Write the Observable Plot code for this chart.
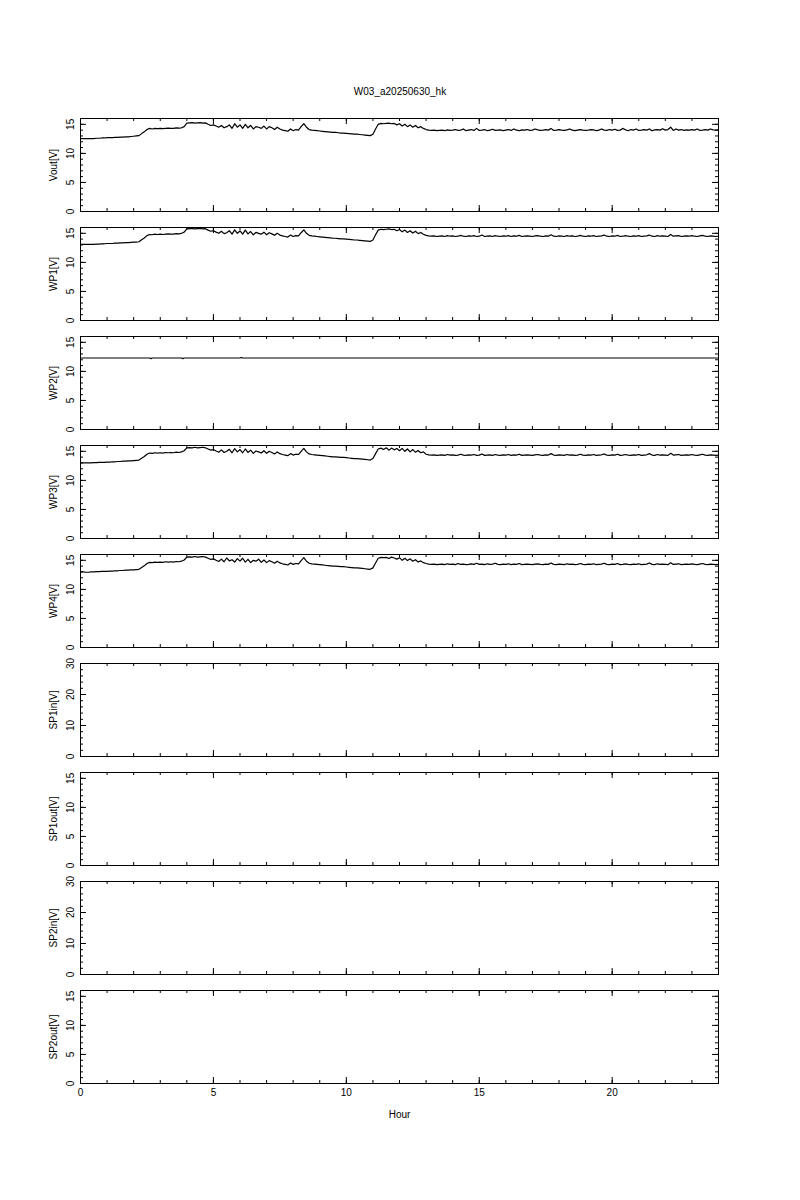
<!DOCTYPE html>
<html><head><meta charset="utf-8">
<script src="https://cdn.jsdelivr.net/npm/d3@7"></script>
<script src="https://cdn.jsdelivr.net/npm/@observablehq/plot@0.6"></script>
<style>
body{margin:0;background:#fff;}
#root{position:relative;width:800px;height:1200px;background:#fff;font-family:"Liberation Sans",Arial,sans-serif;}
.title{position:absolute;top:86px;left:0;width:800px;text-align:center;font-size:10px;line-height:12px;color:#000;}
.panel{position:absolute;left:0;}
</style></head><body>
<div id="root"><div class="title">W03_a20250630_hk</div></div>
<script>
const title = "W03_a20250630_hk";
const panelLabels = ["Vout[V]","WP1[V]","WP2[V]","WP3[V]","WP4[V]","SP1in[V]","SP1out[V]","SP2in[V]","SP2out[V]"];
const panelMax = [16,16,16,16,16,30,16,30,16];
const xTickLabels = [0,5,10,15,20];

// sample hours (every 0.1 h)
const hours = d3.range(0, 241).map(i => i / 10);

const vout = [
12.55,12.55,12.55,12.55,12.55,12.55,12.6,12.6,12.65,12.65,
12.7,12.7,12.7,12.75,12.75,12.8,12.8,12.85,12.85,12.9,
12.95,13.0,13.05,13.4,13.7,14.1,14.3,14.2,14.3,14.25,
14.3,14.25,14.3,14.35,14.3,14.3,14.4,14.35,14.4,14.6,
15.2,15.25,15.3,15.2,15.25,15.3,15.2,15.25,15.0,14.8,
14.9,14.7,14.5,14.8,14.4,14.6,14.9,14.3,15.1,14.5,
14.9,14.3,15.0,14.4,14.8,14.2,14.6,14.5,14.3,14.7,
14.2,14.6,14.4,14.1,14.5,14.2,14.0,13.9,13.8,14.2,
13.9,14.1,14.0,14.6,15.1,14.5,14.1,14.0,13.95,13.9,
13.85,13.8,13.75,13.7,13.65,13.6,13.6,13.55,13.5,13.5,
13.45,13.4,13.35,13.3,13.3,13.25,13.2,13.15,13.1,13.05,
13.3,14.2,15.0,15.15,15.1,15.15,15.2,15.1,15.15,14.9,
15.1,14.7,15.0,14.6,14.9,14.5,14.8,14.4,14.6,14.3,
14.1,14.0,13.95,14.0,13.9,13.95,14.0,13.9,14.05,13.95,
14.0,14.1,13.95,14.0,14.2,13.9,14.0,14.1,13.95,14.3,
13.95,14.0,14.1,13.9,14.0,14.15,13.95,14.0,14.05,13.9,
14.0,14.1,13.95,14.2,14.0,13.9,14.05,14.0,14.1,13.95,
14.0,14.2,14.05,13.95,14.0,14.1,14.0,14.3,13.95,14.0,
14.1,14.0,13.95,14.05,14.2,14.0,13.9,14.0,14.1,14.0,
13.95,14.0,14.1,14.05,13.9,14.0,14.2,14.0,13.95,14.1,
14.0,14.15,13.95,14.0,14.3,14.05,13.9,14.1,14.0,14.2,
13.95,14.0,14.1,14.0,14.2,13.9,14.05,14.1,14.0,14.25,
14.0,14.1,14.5,13.95,14.2,14.0,14.1,13.95,14.05,14.0,
14.1,14.0,14.2,13.95,14.0,14.1,14.0,14.2,14.05,14.0,
14.05];

const wp1 = [
13.1,13.1,13.1,13.1,13.1,13.1,13.15,13.15,13.2,13.2,
13.25,13.25,13.25,13.3,13.3,13.35,13.35,13.4,13.4,13.45,
13.5,13.5,13.55,13.9,14.2,14.6,14.8,14.75,14.85,14.8,
14.85,14.8,14.85,14.9,14.85,14.85,14.95,14.9,15.0,15.2,
15.75,15.8,15.8,15.75,15.8,15.85,15.75,15.8,15.55,15.35,
15.45,15.2,15.0,15.35,14.95,15.1,15.45,14.85,15.6,15.0,
15.4,14.85,15.55,14.9,15.3,14.75,15.15,15.0,14.85,15.2,
14.75,15.1,14.9,14.65,15.0,14.7,14.55,14.45,14.35,14.7,
14.45,14.6,14.55,15.1,15.6,15.0,14.65,14.55,14.5,14.45,
14.4,14.35,14.3,14.25,14.2,14.15,14.15,14.1,14.05,14.05,
14.0,13.95,13.9,13.85,13.85,13.8,13.75,13.7,13.65,13.6,
13.85,14.75,15.55,15.7,15.65,15.7,15.75,15.65,15.7,15.45,
15.65,15.25,15.55,15.15,15.45,15.05,15.35,14.95,15.15,14.85,
14.65,14.55,14.5,14.55,14.45,14.5,14.55,14.45,14.6,14.5,
14.55,14.45,14.5,14.65,14.5,14.45,14.55,14.5,14.6,14.45,
14.5,14.7,14.45,14.5,14.55,14.45,14.6,14.5,14.45,14.55,
14.5,14.6,14.45,14.55,14.5,14.65,14.45,14.5,14.55,14.5,
14.45,14.55,14.6,14.5,14.45,14.55,14.5,14.75,14.5,14.45,
14.55,14.5,14.45,14.6,14.5,14.55,14.45,14.5,14.65,14.5,
14.45,14.55,14.5,14.6,14.45,14.5,14.55,14.7,14.5,14.45,
14.55,14.5,14.65,14.45,14.5,14.6,14.5,14.45,14.55,14.5,
14.6,14.45,14.5,14.55,14.7,14.5,14.45,14.6,14.5,14.55,
14.5,14.45,14.8,14.5,14.55,14.6,14.45,14.5,14.55,14.5,
14.6,14.5,14.45,14.55,14.65,14.5,14.45,14.55,14.5,14.45,
14.5];

const wp2Hours = [0, 2.6, 2.65, 2.7, 3.8, 3.85, 3.9, 6.0, 6.05, 6.1, 24];
const wp2 = [12.3, 12.3, 12.2, 12.3, 12.3, 12.2, 12.3, 12.3, 12.4, 12.3, 12.3];

const wp3 = [
13.0,13.0,13.0,13.0,13.0,13.05,13.05,13.1,13.1,13.1,
13.15,13.15,13.2,13.2,13.25,13.25,13.3,13.3,13.35,13.35,
13.4,13.45,13.5,13.8,14.1,14.5,14.7,14.65,14.75,14.7,
14.75,14.7,14.8,14.75,14.8,14.75,14.85,14.8,14.9,15.1,
15.6,15.65,15.6,15.7,15.6,15.65,15.7,15.6,15.4,15.2,
15.3,15.05,14.85,15.25,14.8,15.0,15.35,14.75,15.45,14.9,
15.3,14.75,15.4,14.8,15.2,14.65,15.05,14.9,14.7,15.1,
14.65,15.0,14.8,14.55,14.9,14.6,14.45,14.35,14.25,14.6,
14.35,14.5,14.45,15.0,15.5,14.9,14.55,14.45,14.4,14.35,
14.3,14.25,14.2,14.15,14.1,14.05,14.05,14.0,13.95,13.95,
13.9,13.85,13.8,13.75,13.75,13.7,13.65,13.6,13.55,13.5,
13.75,14.6,15.4,15.55,15.3,15.6,15.2,15.55,15.25,15.5,
15.1,15.5,15.0,15.4,14.9,15.3,14.85,15.15,14.75,14.9,
14.5,14.4,14.35,14.4,14.3,14.35,14.4,14.3,14.45,14.35,
14.4,14.3,14.35,14.5,14.35,14.3,14.4,14.35,14.45,14.3,
14.35,14.55,14.3,14.35,14.4,14.3,14.45,14.35,14.3,14.4,
14.35,14.45,14.3,14.4,14.35,14.5,14.3,14.35,14.4,14.35,
14.3,14.4,14.45,14.35,14.3,14.4,14.35,14.6,14.35,14.3,
14.4,14.35,14.3,14.45,14.35,14.4,14.3,14.35,14.5,14.35,
14.3,14.4,14.35,14.45,14.3,14.35,14.4,14.55,14.35,14.3,
14.4,14.35,14.5,14.3,14.35,14.45,14.35,14.3,14.4,14.35,
14.45,14.3,14.35,14.4,14.6,14.35,14.3,14.45,14.35,14.4,
14.35,14.3,14.65,14.35,14.4,14.45,14.3,14.35,14.4,14.35,
14.45,14.35,14.3,14.4,14.5,14.35,14.3,14.4,14.35,14.3,
14.35];

const wp4 = [
13.0,13.0,12.95,12.95,13.0,13.0,13.05,13.05,13.1,13.1,
13.1,13.15,13.15,13.2,13.2,13.25,13.25,13.3,13.3,13.35,
13.35,13.4,13.45,13.75,14.05,14.45,14.65,14.6,14.7,14.65,
14.7,14.65,14.75,14.7,14.75,14.7,14.8,14.75,14.85,15.05,
15.55,15.6,15.55,15.65,15.55,15.6,15.65,15.55,15.35,15.15,
15.25,15.0,14.8,15.2,14.75,15.4,14.9,15.1,14.7,15.3,
14.85,15.35,14.7,15.15,14.6,15.0,14.85,15.2,14.65,15.05,
14.6,14.95,14.75,14.5,14.85,14.55,14.4,14.3,14.2,14.55,
14.3,14.45,14.4,14.95,15.45,14.85,14.5,14.4,14.35,14.3,
14.25,14.2,14.15,14.1,14.05,14.0,14.0,13.95,13.9,13.9,
13.85,13.8,13.75,13.7,13.7,13.65,13.6,13.55,13.5,13.45,
13.7,14.55,15.35,15.5,15.45,15.5,15.3,15.55,15.4,15.2,
15.45,15.0,15.35,14.95,15.25,14.85,15.1,14.7,14.9,14.6,
14.45,14.35,14.3,14.35,14.25,14.3,14.35,14.25,14.4,14.3,
14.35,14.25,14.45,14.3,14.35,14.25,14.3,14.4,14.3,14.5,
14.3,14.35,14.25,14.4,14.3,14.35,14.5,14.3,14.25,14.35,
14.3,14.4,14.25,14.35,14.3,14.45,14.25,14.3,14.35,14.3,
14.25,14.35,14.4,14.3,14.25,14.35,14.3,14.55,14.3,14.25,
14.35,14.3,14.25,14.4,14.3,14.35,14.25,14.3,14.45,14.3,
14.25,14.35,14.3,14.4,14.25,14.3,14.35,14.5,14.3,14.25,
14.35,14.3,14.45,14.25,14.3,14.4,14.3,14.25,14.35,14.3,
14.4,14.25,14.3,14.35,14.55,14.3,14.25,14.4,14.3,14.35,
14.3,14.25,14.6,14.3,14.35,14.4,14.25,14.3,14.35,14.3,
14.4,14.3,14.25,14.35,14.45,14.3,14.25,14.35,14.3,14.25,
14.3];

const panelSeries = [
  {x: hours, y: vout}, {x: hours, y: wp1}, {x: wp2Hours, y: wp2},
  {x: hours, y: wp3}, {x: hours, y: wp4}, null, null, null, null
];

const root = document.getElementById("root");
const FH = 93, MT = 6, ML = 80, MR = 82, FW = 800 - ML - MR;
const xMajor = [0,5,10,15,20];
const xMinor = d3.range(0, 25);

panelLabels.forEach((label, i) => {
  const ymax = panelMax[i];
  const last = i === panelLabels.length - 1;
  const yMajor = ymax === 30 ? [0,10,20,30] : [0,5,10,15];
  const yMinor = ymax === 30 ? d3.range(0, 31, 2) : d3.range(0, 17, 1);
  const MB = last ? 50 : 10;
  const H = MT + FH + MB;
  const marks = [
    Plot.tickX(xMinor, {x: d => d, insetTop: FH - 3, stroke: "black"}),
    Plot.tickX(xMinor, {x: d => d, insetBottom: FH - 3, stroke: "black"}),
    Plot.tickX(xMajor, {x: d => d, insetTop: FH - 6, stroke: "black"}),
    Plot.tickX(xMajor, {x: d => d, insetBottom: FH - 6, stroke: "black"}),
    Plot.tickY(yMinor, {y: d => d, insetRight: FW - 3, stroke: "black"}),
    Plot.tickY(yMinor, {y: d => d, insetLeft: FW - 3, stroke: "black"}),
    Plot.tickY(yMajor, {y: d => d, insetRight: FW - 6, stroke: "black"}),
    Plot.tickY(yMajor, {y: d => d, insetLeft: FW - 6, stroke: "black"}),
    Plot.text(yMajor, {y: d => d, text: d => String(d), frameAnchor: "left", dx: -10, rotate: -90, textAnchor: "middle", fill: "black"}),
    Plot.text([label], {frameAnchor: "left", dx: -27, rotate: -90, textAnchor: "middle", fill: "black"})
  ];
  const s = panelSeries[i];
  if (s) marks.push(Plot.line(s.y, {x: s.x, y: d => d, stroke: "black", strokeWidth: 1.2}));
  marks.push(Plot.frame({stroke: "black"}));
  if (last) {
    marks.push(Plot.text(xTickLabels, {x: d => d, text: d => String(d), frameAnchor: "bottom", dy: 12, fill: "black"}));
    marks.push(Plot.text(["Hour"], {frameAnchor: "bottom", dy: 34, fill: "black"}));
  }
  const svg = Plot.plot({
    width: 800, height: H,
    marginLeft: ML, marginRight: MR, marginTop: MT, marginBottom: MB,
    x: {domain: [0, 24], axis: null},
    y: {domain: [0, ymax], axis: null},
    style: {fontFamily: "'Liberation Sans', Arial, sans-serif", fontSize: "10px", overflow: "visible", background: "transparent", color: "black"},
    marks
  });
  svg.setAttribute("class", "panel");
  svg.style.position = "absolute";
  svg.style.top = (118 + 109 * i - MT) + "px";
  svg.style.left = "0px";
  root.appendChild(svg);
});
</script>
</body></html>
